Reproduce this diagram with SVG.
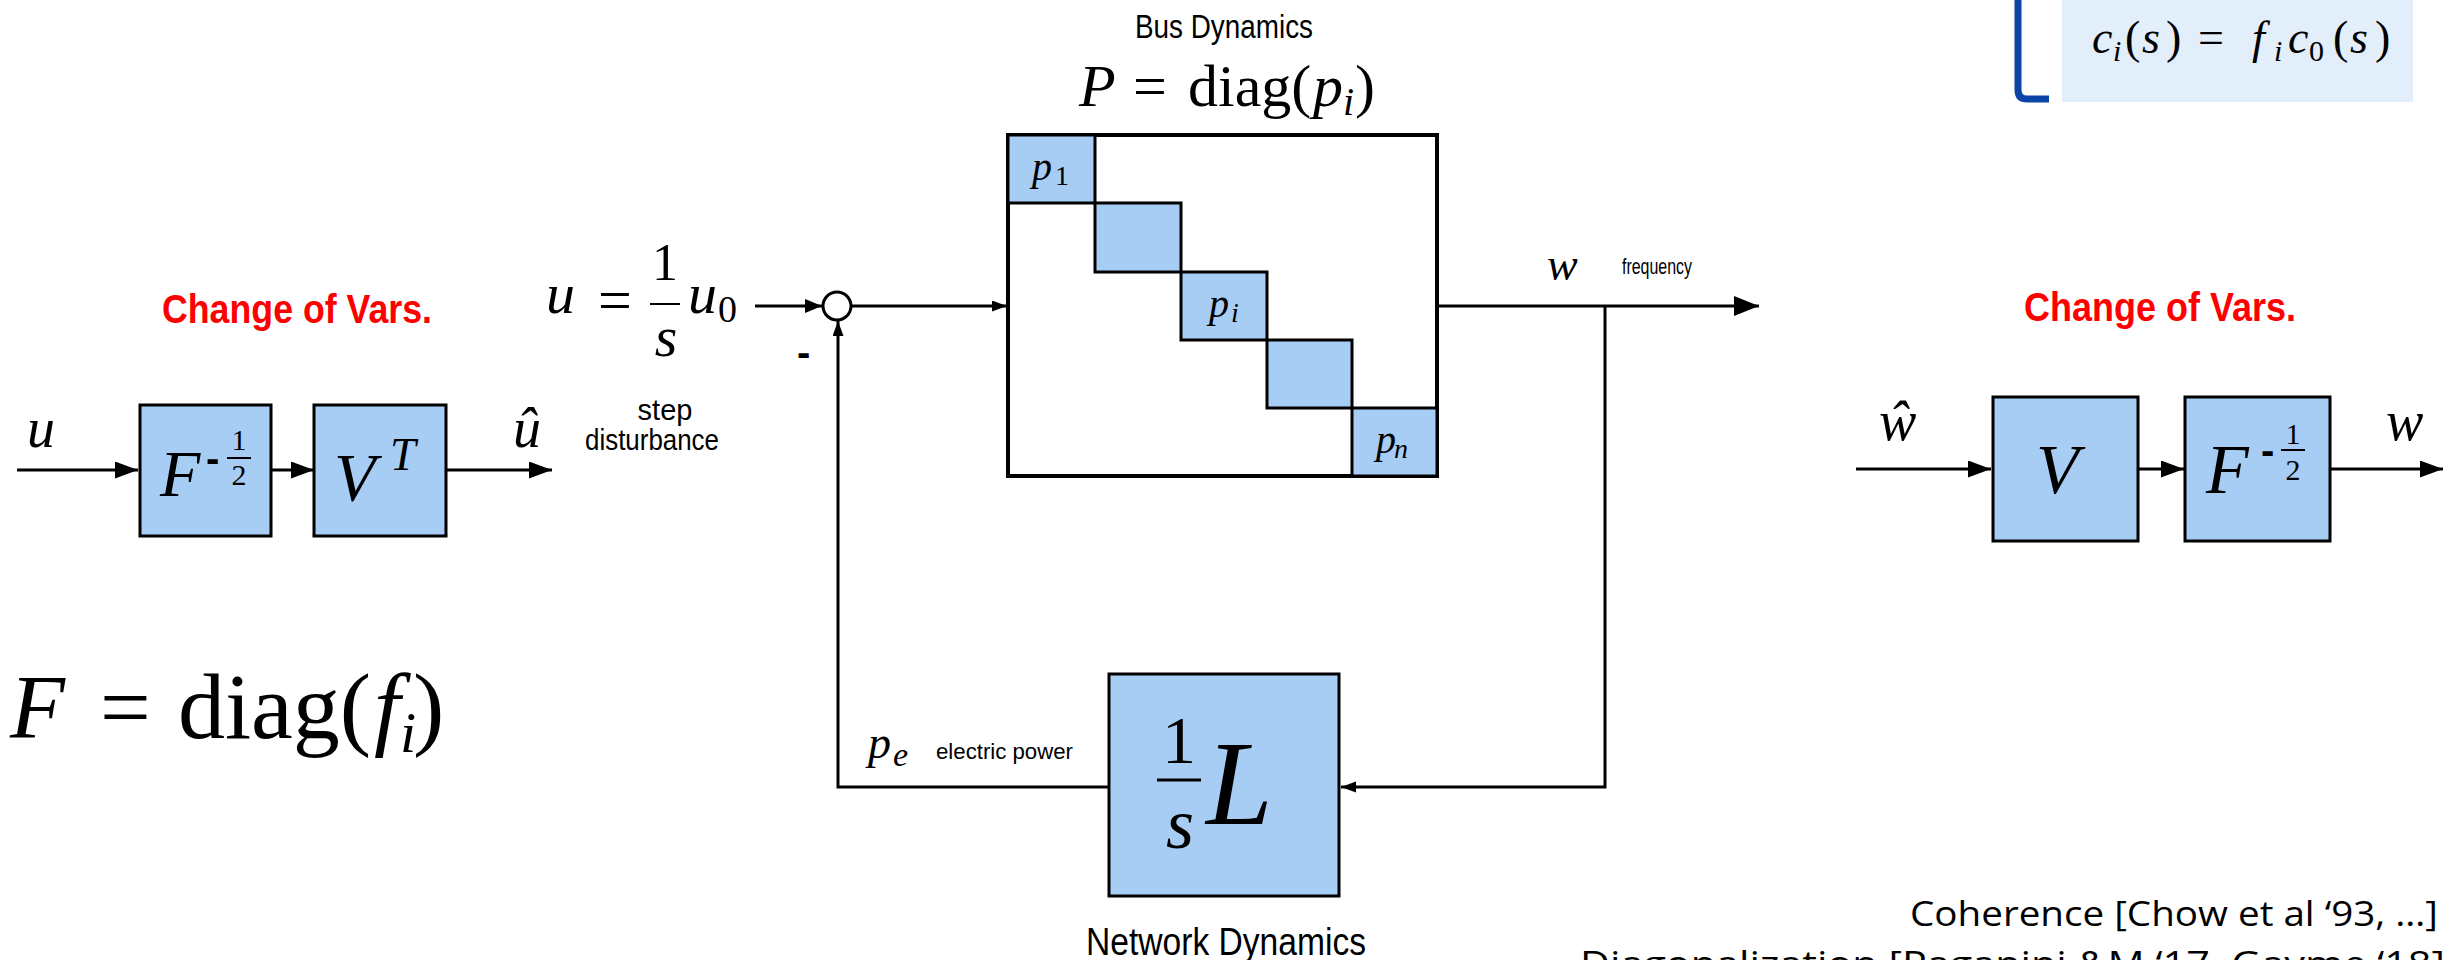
<svg xmlns="http://www.w3.org/2000/svg" width="2445" height="960" viewBox="0 0 2445 960">
<defs>
<style>
.m{font-family:"Liberation Serif","DejaVu Serif",serif;font-style:italic;fill:#000}
.r{font-family:"Liberation Serif","DejaVu Serif",serif;font-style:normal;fill:#000}
.s{font-family:"Liberation Sans",Arial,sans-serif;fill:#000}
.red{font-family:"Liberation Sans",Arial,sans-serif;font-weight:bold;fill:#ff0000;font-size:40px}
.cal{font-family:"Open Sans","Liberation Sans",sans-serif;fill:#000;font-size:35px}
.blk{fill:#a7cdf4;stroke:#000;stroke-width:3}
.ln{fill:none;stroke:#000;stroke-width:3}
.bar{stroke:#000;stroke-width:2}
</style>
<marker id="aL" markerUnits="userSpaceOnUse" markerWidth="24" markerHeight="18" refX="23" refY="8.5" orient="auto"><path d="M0,0 L23,8.5 L0,17 z" fill="#000"/></marker>
<marker id="aW" markerUnits="userSpaceOnUse" markerWidth="26" markerHeight="20" refX="25" refY="10" orient="auto"><path d="M0,0 L25,10 L0,20 z" fill="#000"/></marker>
<marker id="aM" markerUnits="userSpaceOnUse" markerWidth="18" markerHeight="14" refX="17" refY="7" orient="auto"><path d="M0,0 L17,7 L0,14 z" fill="#000"/></marker>
<marker id="aS" markerUnits="userSpaceOnUse" markerWidth="16" markerHeight="12" refX="15" refY="5.5" orient="auto"><path d="M0,0 L15,5.5 L0,11 z" fill="#000"/></marker>
</defs>
<rect width="2445" height="960" fill="#fff"/>

<g id="connectors">
<line class="ln" x1="17" y1="470" x2="138" y2="470" marker-end="url(#aL)"/>
<line class="ln" x1="271" y1="470" x2="314" y2="470" marker-end="url(#aL)"/>
<line class="ln" x1="446" y1="470" x2="552" y2="470" marker-end="url(#aL)"/>
<line class="ln" x1="1856" y1="469" x2="1991" y2="469" marker-end="url(#aL)"/>
<line class="ln" x1="2138" y1="469" x2="2184" y2="469" marker-end="url(#aL)"/>
<line class="ln" x1="2330" y1="469" x2="2443" y2="469" marker-end="url(#aL)"/>
<line class="ln" x1="755" y1="306" x2="822" y2="306" marker-end="url(#aM)"/>
<line class="ln" x1="851" y1="306" x2="1007" y2="306" stroke-width="2.5" marker-end="url(#aS)"/>
<line class="ln" x1="1437" y1="306" x2="1759" y2="306" marker-end="url(#aW)"/>
<polyline class="ln" points="1605,306 1605,787 1341,787" marker-end="url(#aS)"/>
<polyline class="ln" points="1109,787 838,787 838,321" marker-end="url(#aS)"/>
</g>

<g id="note-box">
<rect x="2062" y="0" width="351" height="102" fill="#e2eef9"/>
<path d="M2018,0 L2018,90 Q2018,99 2027,99 L2049,99" fill="none" stroke="#0a45a6" stroke-width="7"/>
<text class="m" x="2092" y="53" font-size="46">c</text>
<text class="m" x="2113" y="61" font-size="30">i</text>
<text class="r" x="2125" y="53" font-size="46">(</text>
<text class="m" x="2142" y="53" font-size="46">s</text>
<text class="r" x="2166" y="53" font-size="46">)</text>
<text class="r" x="2198" y="53" font-size="46">=</text>
<text class="m" x="2252" y="53" font-size="46">f</text>
<text class="m" x="2274" y="61" font-size="30">i</text>
<text class="m" x="2288" y="53" font-size="46">c</text>
<text class="r" x="2309" y="61" font-size="30">0</text>
<text class="r" x="2333" y="53" font-size="46">(</text>
<text class="m" x="2350" y="53" font-size="46">s</text>
<text class="r" x="2375" y="53" font-size="46">)</text>
</g>

<g id="left-cov">
<text class="red" x="297" y="323" text-anchor="middle" textLength="270" lengthAdjust="spacingAndGlyphs">Change of Vars.</text>
<text class="m" x="27" y="447" font-size="56">u</text>
<text class="m" x="513" y="447" font-size="56">û</text>
</g>
<g id="node-F-left">
<rect class="blk" x="140" y="405" width="131" height="131"/>
<text class="m" x="160" y="496" font-size="66">F</text>
<text class="s" x="206" y="472" font-size="40" font-weight="bold">-</text>
<text class="r" x="239" y="450" font-size="30" text-anchor="middle">1</text>
<line class="bar" x1="227" y1="458" x2="251" y2="458"/>
<text class="r" x="239" y="485" font-size="30" text-anchor="middle">2</text>
</g>
<g id="node-VT">
<rect class="blk" x="314" y="405" width="132" height="131"/>
<text class="m" x="334" y="500" font-size="68">V</text>
<text class="m" x="390" y="470" font-size="46">T</text>
</g>

<g id="F-def">
<text class="m" x="10" y="738" font-size="90">F</text>
<text class="r" x="100" y="738" font-size="90">=</text>
<text class="r" x="178" y="738" font-size="94">diag(</text>
<text class="m" x="374" y="738" font-size="94">f</text>
<text class="m" x="400" y="752" font-size="58">i</text>
<text class="r" x="413" y="738" font-size="94">)</text>
</g>

<g id="input-label">
<text class="m" x="546" y="313" font-size="58">u</text>
<text class="r" x="598" y="320" font-size="60">=</text>
<text class="r" x="665" y="280" font-size="52" text-anchor="middle">1</text>
<line class="bar" x1="650" y1="304" x2="680" y2="304"/>
<text class="m" x="666" y="356" font-size="58" text-anchor="middle">s</text>
<text class="m" x="688" y="313" font-size="58">u</text>
<text class="r" x="718" y="322" font-size="38">0</text>
<text class="s" x="665" y="420" font-size="29" text-anchor="middle">step</text>
<text class="s" x="652" y="450" font-size="29" text-anchor="middle" textLength="134" lengthAdjust="spacingAndGlyphs">disturbance</text>
</g>

<g id="sum-junction">
<circle cx="837" cy="306" r="14" fill="#fff" stroke="#000" stroke-width="3"/>
<text class="s" x="797" y="366" font-size="40" font-weight="bold">-</text>
</g>

<g id="node-bus">
<text class="s" x="1224" y="38" font-size="34" text-anchor="middle" textLength="178" lengthAdjust="spacingAndGlyphs">Bus Dynamics</text>
<text class="m" x="1079" y="106" font-size="60">P</text>
<text class="r" x="1133" y="106" font-size="60">=</text>
<text class="r" x="1188" y="106" font-size="60">diag(</text>
<text class="m" x="1313" y="106" font-size="60">p</text>
<text class="m" x="1343" y="115" font-size="40">i</text>
<text class="r" x="1355" y="106" font-size="60">)</text>
<rect x="1008" y="135" width="429" height="341" fill="#fff" stroke="#000" stroke-width="4"/>
<rect class="blk" x="1008" y="135" width="87" height="68"/>
<rect class="blk" x="1095" y="203" width="86" height="69"/>
<rect class="blk" x="1181" y="272" width="86" height="68"/>
<rect class="blk" x="1267" y="340" width="85" height="68"/>
<rect class="blk" x="1352" y="408" width="85" height="68"/>
<text class="m" x="1032" y="180" font-size="40">p</text>
<text class="r" x="1055" y="185" font-size="28">1</text>
<text class="m" x="1209" y="317" font-size="40">p</text>
<text class="m" x="1231" y="322" font-size="28">i</text>
<text class="m" x="1376" y="453" font-size="40">p</text>
<text class="m" x="1394" y="458" font-size="28">n</text>
</g>

<g id="out-label">
<text class="m" x="1547" y="280" font-size="46">w</text>
<text class="s" x="1622" y="274" font-size="22" textLength="70" lengthAdjust="spacingAndGlyphs">frequency</text>
</g>

<g id="node-network">
<rect class="blk" x="1109" y="674" width="230" height="222"/>
<text class="r" x="1179" y="763" font-size="68" text-anchor="middle">1</text>
<line x1="1157" y1="780" x2="1201" y2="780" stroke="#000" stroke-width="3"/>
<text class="m" x="1180" y="848" font-size="72" text-anchor="middle">s</text>
<text class="m" x="1206" y="824" font-size="120">L</text>
<text class="s" x="1226" y="955" font-size="38" text-anchor="middle" textLength="280" lengthAdjust="spacingAndGlyphs">Network Dynamics</text>
</g>

<g id="fb-label">
<text class="m" x="868" y="758" font-size="46">p</text>
<text class="m" x="893" y="766" font-size="34">e</text>
<text class="s" x="936" y="759" font-size="22" textLength="137" lengthAdjust="spacingAndGlyphs">electric power</text>
</g>

<g id="right-cov">
<text class="red" x="2160" y="321" text-anchor="middle" textLength="272" lengthAdjust="spacingAndGlyphs">Change of Vars.</text>
<text class="m" x="1879" y="440" font-size="56">ŵ</text>
<text class="m" x="2386" y="440" font-size="56">w</text>
</g>
<g id="node-V">
<rect class="blk" x="1993" y="397" width="145" height="144"/>
<text class="m" x="2036" y="493" font-size="70">V</text>
</g>
<g id="node-F-right">
<rect class="blk" x="2185" y="397" width="145" height="144"/>
<text class="m" x="2206" y="493" font-size="70">F</text>
<text class="s" x="2261" y="464" font-size="40" font-weight="bold">-</text>
<text class="r" x="2293" y="444" font-size="30" text-anchor="middle">1</text>
<line class="bar" x1="2281" y1="450" x2="2305" y2="450"/>
<text class="r" x="2293" y="480" font-size="30" text-anchor="middle">2</text>
</g>

<g id="refs">
<text class="cal" x="1910" y="926" textLength="528" lengthAdjust="spacingAndGlyphs">Coherence [Chow et al ‘93, …]</text>
<text class="cal" x="1580" y="976" textLength="865" lengthAdjust="spacingAndGlyphs">Diagonalization [Paganini &amp;M ‘17, Gayme ‘18]</text>
</g>
</svg>
